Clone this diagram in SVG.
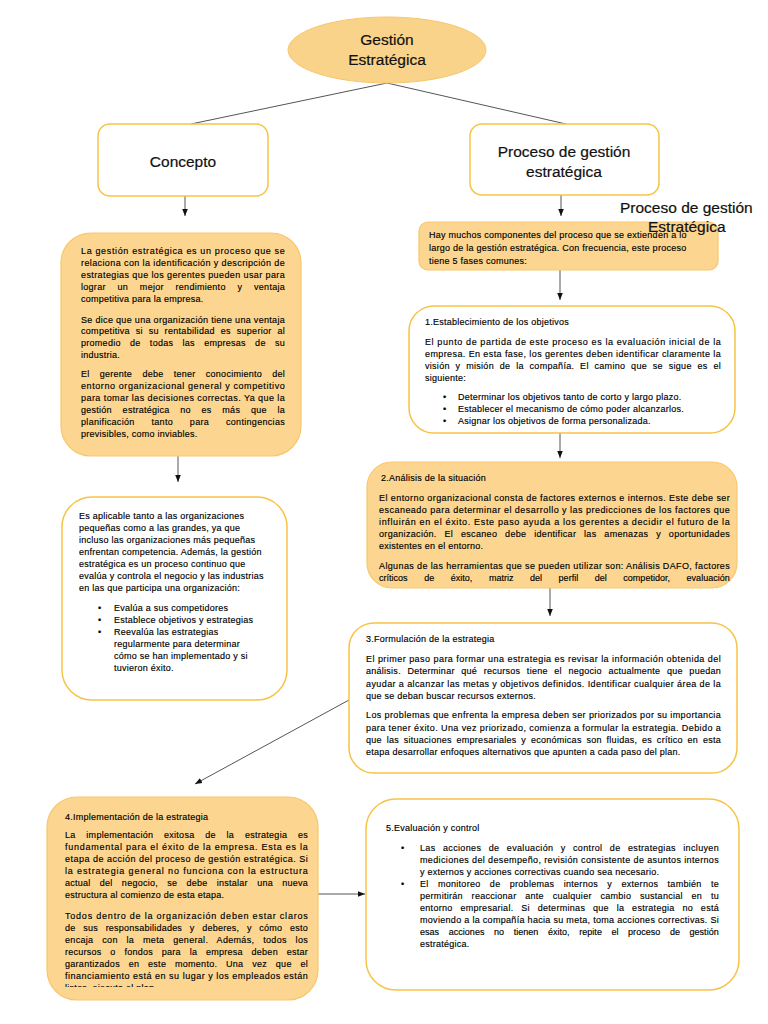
<svg xmlns="http://www.w3.org/2000/svg" width="768" height="1024" viewBox="0 0 768 1024">
<style>
.o{fill:#FCD690;stroke:#F7C76A;stroke-width:1.2}
.w{fill:#FFFFFF;stroke:#F6C445;stroke-width:1.5}
.t{font-family:"Liberation Sans",Arial,sans-serif;font-size:9px;fill:#000;stroke:#000;stroke-width:0.15;letter-spacing:0.25px}
.h{font-family:"Liberation Sans",Arial,sans-serif;font-size:15.5px;fill:#111;stroke:#111;stroke-width:0.2;text-anchor:middle}
.f{font-family:"Liberation Sans",Arial,sans-serif;font-size:15.5px;fill:#111;stroke:#111;stroke-width:0.2}
.c{stroke:#555;stroke-width:1;fill:none}
</style>
<defs>
<marker id="ah" viewBox="0 0 10 10" refX="10" refY="5" markerWidth="7" markerHeight="7" orient="auto" markerUnits="userSpaceOnUse">
<path d="M0,1 L10,5 L0,9 Z" fill="#111"/>
</marker>
<clipPath id="clip4"><rect x="47" y="797" width="271" height="190"/></clipPath>
</defs>
<rect width="768" height="1024" fill="#FFFFFF"/>

<g id="connectors">
<line class="c" x1="387" y1="83" x2="191" y2="124"/>
<line class="c" x1="387" y1="83" x2="566" y2="124"/>
<line class="c" x1="185" y1="196" x2="185" y2="216" marker-end="url(#ah)"/>
<line class="c" x1="178" y1="456" x2="178" y2="482" marker-end="url(#ah)"/>
<line class="c" x1="561" y1="195" x2="561" y2="216" marker-end="url(#ah)"/>
<line class="c" x1="560" y1="270" x2="560" y2="300" marker-end="url(#ah)"/>
<line class="c" x1="560" y1="432" x2="560" y2="458" marker-end="url(#ah)"/>
<line class="c" x1="550" y1="588" x2="550" y2="616" marker-end="url(#ah)"/>
<line class="c" x1="349" y1="700" x2="195" y2="784" marker-end="url(#ah)"/>
<line class="c" x1="318" y1="894" x2="365" y2="894" marker-end="url(#ah)"/>
</g>

<g id="root">
<ellipse cx="387" cy="50" rx="99" ry="33" fill="#FAD38A" stroke="#F7C76A" stroke-width="1"/>
<text class="h" x="387" y="45">Gestión</text>
<text class="h" x="387" y="65">Estratégica</text>
</g>

<g id="concepto">
<rect class="w" x="98" y="124" width="170" height="72" rx="12"/>
<text class="h" x="183" y="167">Concepto</text>
</g>

<g id="proceso">
<rect class="w" x="470" y="124" width="189" height="71" rx="12"/>
<text class="h" x="564" y="157">Proceso de gestión</text>
<text class="h" x="564" y="177">estratégica</text>
</g>

<g id="concepto-texto">
<rect class="o" x="61" y="233" width="240" height="223" rx="30"/>
<text class="t" x="81" y="254" textLength="204" lengthAdjust="spacing">La gestión estratégica es un proceso que se</text>
<text class="t" x="81" y="266" textLength="204" lengthAdjust="spacing">relaciona con la identificación y descripción de</text>
<text class="t" x="81" y="278" textLength="204" lengthAdjust="spacing">estrategias que los gerentes pueden usar para</text>
<text class="t" x="81" y="290" textLength="204" lengthAdjust="spacing" style="word-spacing:9px">lograr un mejor rendimiento y ventaja</text>
<text class="t" x="81" y="302">competitiva para la empresa.</text>
<text class="t" x="81" y="323" textLength="204" lengthAdjust="spacing">Se dice que una organización tiene una ventaja</text>
<text class="t" x="81" y="334" textLength="204" lengthAdjust="spacing" style="word-spacing:3px">competitiva si su rentabilidad es superior al</text>
<text class="t" x="81" y="346" textLength="204" lengthAdjust="spacing" style="word-spacing:6.5px">promedio de todas las empresas de su</text>
<text class="t" x="81" y="358">industria.</text>
<text class="t" x="81" y="377" textLength="204" lengthAdjust="spacing" style="word-spacing:7.5px">El gerente debe tener conocimiento del</text>
<text class="t" x="81" y="389" textLength="204" lengthAdjust="spacing">entorno organizacional general y competitivo</text>
<text class="t" x="81" y="401" textLength="204" lengthAdjust="spacing">para tomar las decisiones correctas.  Ya que la</text>
<text class="t" x="81" y="413" textLength="204" lengthAdjust="spacing" style="word-spacing:8px">gestión estratégica no es más que la</text>
<text class="t" x="81" y="425" textLength="204" lengthAdjust="spacing" style="word-spacing:14px">planificación tanto para contingencias</text>
<text class="t" x="81" y="437">previsibles, como inviables.</text>
</g>

<g id="aplicable">
<rect class="w" x="62" y="497" width="225" height="203" rx="30"/>
<text class="t" x="79" y="519">Es aplicable tanto a las organizaciones</text>
<text class="t" x="79" y="531">pequeñas como a las grandes, ya que</text>
<text class="t" x="79" y="543">incluso las organizaciones más pequeñas</text>
<text class="t" x="79" y="555">enfrentan competencia. Además, la gestión</text>
<text class="t" x="79" y="567">estratégica es un proceso continuo que</text>
<text class="t" x="79" y="579">evalúa y controla el negocio y las industrias</text>
<text class="t" x="79" y="591">en las que participa una organización:</text>
<text class="t" x="98" y="611">•</text><text class="t" x="114" y="611">Evalúa a sus competidores</text>
<text class="t" x="98" y="623">•</text><text class="t" x="114" y="623">Establece objetivos y estrategias</text>
<text class="t" x="98" y="635">•</text><text class="t" x="114" y="635">Reevalúa las estrategias</text>
<text class="t" x="114" y="647">regularmente para determinar</text>
<text class="t" x="114" y="659">cómo se han implementado y si</text>
<text class="t" x="114" y="671">tuvieron éxito.</text>
</g>

<g id="titulo-flotante">
<text class="f" x="620" y="213">Proceso de gestión</text>
</g>

<g id="intro">
<rect class="o" x="419" y="222" width="299" height="48" rx="9"/>
<text class="t" x="429" y="238">Hay muchos componentes del proceso que se extienden a lo</text>
<text class="t" x="429" y="251">largo de la gestión estratégica. Con frecuencia, este proceso</text>
<text class="t" x="429" y="264">tiene 5 fases comunes:</text>
<text class="f" x="648" y="232">Estratégica</text>
</g>

<g id="fase1">
<rect class="w" x="409" y="306" width="326" height="127" rx="25"/>
<text class="t" x="425" y="325">1.Establecimiento de los objetivos</text>
<text class="t" x="425" y="345" textLength="296" lengthAdjust="spacing">El punto de partida de este proceso es la evaluación inicial de la</text>
<text class="t" x="425" y="357" textLength="296" lengthAdjust="spacing">empresa. En esta fase, los gerentes deben identificar claramente la</text>
<text class="t" x="425" y="369" textLength="296" lengthAdjust="spacing" style="word-spacing:3px">visión y misión de la compañía. El camino que se sigue es el</text>
<text class="t" x="425" y="381">siguiente:</text>
<text class="t" x="443" y="400">•</text><text class="t" x="458" y="400">Determinar los objetivos tanto de corto y largo plazo.</text>
<text class="t" x="443" y="412">•</text><text class="t" x="458" y="412">Establecer el mecanismo de cómo poder alcanzarlos.</text>
<text class="t" x="443" y="424">•</text><text class="t" x="458" y="424">Asignar los objetivos de forma personalizada.</text>
</g>

<g id="fase2">
<rect class="o" x="367" y="462" width="370" height="126" rx="25"/>
<text class="t" x="381" y="481">2.Análisis de la situación</text>
<text class="t" x="379" y="501" textLength="351" lengthAdjust="spacing">El entorno organizacional consta de factores externos e internos. Este debe ser</text>
<text class="t" x="379" y="513" textLength="351" lengthAdjust="spacing">escaneado para determinar el desarrollo y las predicciones de los factores que</text>
<text class="t" x="379" y="525" textLength="351" lengthAdjust="spacing">influirán en el éxito. Este paso ayuda a los gerentes a decidir el futuro de la</text>
<text class="t" x="379" y="537" textLength="351" lengthAdjust="spacing" style="word-spacing:5px">organización. El escaneo debe identificar las amenazas y oportunidades</text>
<text class="t" x="379" y="549">existentes en el entorno.</text>
<text class="t" x="379" y="569" textLength="351" lengthAdjust="spacing">Algunas de las herramientas que se pueden utilizar son: Análisis DAFO, factores</text>
<text class="t" x="379" y="581" textLength="351" lengthAdjust="spacing" style="word-spacing:14px">críticos de éxito, matriz del perfil del competidor, evaluación</text>
</g>

<g id="fase3">
<rect class="w" x="349" y="623" width="388" height="150" rx="25"/>
<text class="t" x="366" y="642">3.Formulación de la estrategia</text>
<text class="t" x="366" y="662" textLength="355" lengthAdjust="spacing">El primer paso para formar una estrategia es revisar la información obtenida del</text>
<text class="t" x="366" y="674" textLength="355" lengthAdjust="spacing" style="word-spacing:3.8px">análisis. Determinar qué recursos tiene el negocio actualmente que puedan</text>
<text class="t" x="366" y="687" textLength="355" lengthAdjust="spacing">ayudar a alcanzar las metas y objetivos definidos. Identificar cualquier área de la</text>
<text class="t" x="366" y="699">que se deban buscar recursos externos.</text>
<text class="t" x="366" y="718" textLength="355" lengthAdjust="spacing">Los problemas que enfrenta la empresa deben ser priorizados por su importancia</text>
<text class="t" x="366" y="731" textLength="355" lengthAdjust="spacing">para tener éxito. Una vez priorizado, comienza a formular la estrategia. Debido a</text>
<text class="t" x="366" y="743" textLength="355" lengthAdjust="spacing" style="word-spacing:2px">que las situaciones empresariales y económicas son fluidas, es crítico en esta</text>
<text class="t" x="366" y="755">etapa desarrollar enfoques alternativos que apunten a cada paso del plan.</text>
</g>

<g id="fase4">
<rect class="o" x="47" y="797" width="271" height="203" rx="30"/>
<g clip-path="url(#clip4)">
<text class="t" x="65" y="820">4.Implementación de la estrategia</text>
<text class="t" x="65" y="838" textLength="243" lengthAdjust="spacing" style="word-spacing:8px">La implementación exitosa de la estrategia es</text>
<text class="t" x="65" y="850" textLength="243" lengthAdjust="spacing">fundamental para el éxito de la empresa. Esta es la</text>
<text class="t" x="65" y="862" textLength="243" lengthAdjust="spacing">etapa de acción del proceso de gestión estratégica. Si</text>
<text class="t" x="65" y="874" textLength="243" lengthAdjust="spacing">la estrategia general no funciona con la estructura</text>
<text class="t" x="65" y="886" textLength="243" lengthAdjust="spacing" style="word-spacing:6.5px">actual del negocio, se debe instalar una nueva</text>
<text class="t" x="65" y="898">estructura al comienzo de esta etapa.</text>
<text class="t" x="65" y="919" textLength="243" lengthAdjust="spacing">Todos dentro de la organización deben estar claros</text>
<text class="t" x="65" y="931" textLength="243" lengthAdjust="spacing" style="word-spacing:5px">de sus responsabilidades y deberes, y cómo esto</text>
<text class="t" x="65" y="943" textLength="243" lengthAdjust="spacing" style="word-spacing:6px">encaja con la meta general. Además, todos los</text>
<text class="t" x="65" y="955" textLength="243" lengthAdjust="spacing" style="word-spacing:6px">recursos o fondos para la empresa deben estar</text>
<text class="t" x="65" y="967" textLength="243" lengthAdjust="spacing" style="word-spacing:6px">garantizados en este momento. Una vez que el</text>
<text class="t" x="65" y="979" textLength="243" lengthAdjust="spacing">financiamiento está en su lugar y los empleados están</text>
<text class="t" x="65" y="991">listos, ejecuta el plan.</text>
</g>
</g>

<g id="fase5">
<rect class="w" x="366" y="799" width="373" height="191" rx="30"/>
<text class="t" x="386" y="831">5.Evaluación y control</text>
<text class="t" x="401" y="851">•</text>
<text class="t" x="420" y="851" textLength="299" lengthAdjust="spacing" style="word-spacing:4.5px">Las acciones de evaluación y control de estrategias incluyen</text>
<text class="t" x="420" y="863" textLength="299" lengthAdjust="spacing">mediciones del desempeño, revisión consistente de asuntos internos</text>
<text class="t" x="420" y="875">y externos y acciones correctivas cuando sea necesario.</text>
<text class="t" x="401" y="887">•</text>
<text class="t" x="420" y="887" textLength="299" lengthAdjust="spacing" style="word-spacing:6.5px">El monitoreo de problemas internos y externos también te</text>
<text class="t" x="420" y="899" textLength="299" lengthAdjust="spacing" style="word-spacing:6px">permitirán reaccionar ante cualquier cambio sustancial en tu</text>
<text class="t" x="420" y="911" textLength="299" lengthAdjust="spacing" style="word-spacing:5px">entorno empresarial. Si determinas que la estrategia no está</text>
<text class="t" x="420" y="923" textLength="299" lengthAdjust="spacing">moviendo a la compañía hacia su meta, toma acciones correctivas. Si</text>
<text class="t" x="420" y="935" textLength="299" lengthAdjust="spacing" style="word-spacing:7px">esas acciones no tienen éxito, repite el proceso de gestión</text>
<text class="t" x="420" y="947">estratégica.</text>
</g>
</svg>
